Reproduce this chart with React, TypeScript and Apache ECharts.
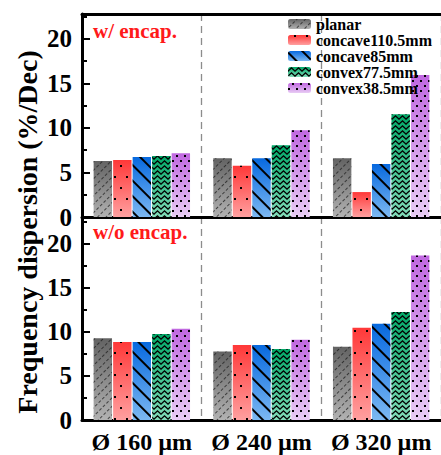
import React, { useEffect, useRef } from "react";
import * as echarts from "echarts";

const categories = ["Ø 160 µm", "Ø 240 µm", "Ø 320 µm"];
const seriesNames = ["planar", "concave110.5mm", "concave85mm", "convex77.5mm", "convex38.5mm"];

// w/ encap. (top panel)
const encapPlanar = [6.3, 6.6, 6.6];
const encapConcave110 = [6.4, 5.75, 2.8];
const encapConcave85 = [6.75, 6.6, 5.95];
const encapConvex77 = [6.85, 8.05, 11.55];
const encapConvex38 = [7.15, 9.75, 15.95];

// w/o encap. (bottom panel)
const bareplanar = [9.25, 7.75, 8.3];
const bareConcave110 = [8.85, 8.5, 10.45];
const bareConcave85 = [8.85, 8.5, 10.9];
const bareConvex77 = [9.75, 8.05, 12.25];
const bareConvex38 = [10.35, 9.1, 18.65];

const yTicks = [0, 5, 10, 15, 20];

const FONT = "'Liberation Serif', 'Times New Roman', serif";

const grad = (top: string, bottom: string) =>
  new echarts.graphic.LinearGradient(0, 0, 0, 1, [
    { offset: 0, color: top },
    { offset: 1, color: bottom },
  ]);

const styles = [
  {
    color: () => grad("#636363", "#b2b2b2"),
    decal: {
      symbol: "rect",
      color: "rgba(30,30,30,0.75)",
      dashArrayX: [3, 2],
      dashArrayY: [1, 5],
      rotation: -Math.PI / 4,
    },
  },
  {
    color: () => grad("#ff3838", "#ffa0a0"),
    decal: {
      symbol: "rect",
      color: "#000",
      dashArrayX: [
        [2, 10],
        [0, 6, 2, 4],
      ],
      dashArrayY: [2, 9],
    },
  },
  {
    color: () => grad("#0769df", "#7cb8f2"),
    decal: {
      symbol: "rect",
      color: "#000",
      dashArrayX: [1, 0],
      dashArrayY: [2, 9],
      rotation: Math.PI / 4,
    },
  },
  {
    color: () => grad("#00a867", "#82dcb9"),
    decal: {
      symbol: "path://M0,7 L5,1 L10,7 L10,10 L5,4 L0,10 Z",
      symbolKeepAspect: false,
      color: "#000",
      dashArrayX: [7, 0],
      dashArrayY: [5, 0],
    },
  },
  {
    color: () => grad("#c068e0", "#e8ccf4"),
    decal: {
      symbol: "rect",
      color: "#000",
      dashArrayX: [
        [2, 6],
        [0, 4, 2, 2],
      ],
      dashArrayY: [2, 3],
    },
  },
];

const topData = [encapPlanar, encapConcave110, encapConcave85, encapConvex77, encapConvex38];
const bottomData = [bareplanar, bareConcave110, bareConcave85, bareConvex77, bareConvex38];

export default function App() {
  const ref = useRef<HTMLDivElement>(null);
  useEffect(() => {
    if (!ref.current) return;
    const chart = echarts.init(ref.current, undefined, { renderer: "svg" });

    const makeX = (gridIndex: number, showLabel: boolean, position: string, split: boolean) => ({
      type: "category",
      gridIndex,
      data: categories,
      position,
      boundaryGap: true,
      axisLine: { show: true, onZero: false, lineStyle: { color: "#000", width: 3 } },
      axisTick: { show: false },
      axisLabel: {
        show: showLabel,
        interval: 0,
        hideOverlap: false,
        color: "#000",
        fontFamily: FONT,
        fontWeight: "bold",
        fontSize: 24,
        margin: 10,
      },
      splitLine: {
        show: split,
        interval: 0,
        lineStyle: { color: "#8c8c8c", width: 1.3, type: [7, 5] },
      },
    });

    const makeY = (gridIndex: number, max: number) => ({
      type: "value",
      gridIndex,
      min: 0,
      max,
      interval: 5,
      axisLine: { show: true, lineStyle: { color: "#000", width: 3 } },
      axisTick: { show: true, inside: true, length: 8, lineStyle: { color: "#000", width: 2 } },
      minorTick: { show: true, splitNumber: 2, length: 5, lineStyle: { color: "#000", width: 2 } },
      splitLine: { show: false },
      axisLabel: {
        showMaxLabel: false,
        color: "#000",
        fontFamily: FONT,
        fontWeight: "bold",
        fontSize: 25,
        margin: 10,
        formatter: (v: number) => (yTicks.includes(v) ? String(v) : ""),
      },
    });

    const series: any[] = [];
    [topData, bottomData].forEach((panel, p) => {
      panel.forEach((vals, i) => {
        series.push({
          type: "bar",
          name: seriesNames[i],
          xAxisIndex: p,
          yAxisIndex: p,
          data: vals,
          barWidth: 18.4,
          barGap: "6%",
          itemStyle: { color: styles[i].color(), decal: styles[i].decal },
          emphasis: { disabled: true },
        });
      });
    });

    chart.setOption({
      animation: false,
      aria: { enabled: false, decal: { show: false } },
      grid: [
        { left: 82, top: 14, width: 364, height: 203 },
        { left: 82, top: 217, width: 364, height: 203 },
      ],
      xAxis: [makeX(0, false, "bottom", true), makeX(1, true, "bottom", true), makeX(0, false, "top", false)],
      yAxis: [makeY(0, 22.8), makeY(1, 23)],
      legend: {
        orient: "vertical",
        left: 283,
        top: 11,
        itemWidth: 23,
        itemHeight: 10,
        itemGap: 0,
        data: seriesNames,
        textStyle: {
          color: "#000",
          fontFamily: FONT,
          fontWeight: "bold",
          fontSize: 16,
          lineHeight: 15,
        },
      },
      graphic: [
        {
          type: "text",
          x: 27,
          y: 232,
          rotation: Math.PI / 2,
          style: {
            text: "Frequency dispersion (%/Dec)",
            font: `bold 28px ${FONT}`,
            fill: "#000",
            textAlign: "center",
            textVerticalAlign: "middle",
          },
        },
        {
          type: "text",
          x: 93,
          y: 31,
          style: {
            text: "w/ encap.",
            font: `bold 21px ${FONT}`,
            fill: "#ff1a1a",
            textAlign: "left",
            textVerticalAlign: "middle",
          },
        },
        {
          type: "text",
          x: 93,
          y: 232,
          style: {
            text: "w/o encap.",
            font: `bold 21px ${FONT}`,
            fill: "#ff1a1a",
            textAlign: "left",
            textVerticalAlign: "middle",
          },
        },
      ],
      series,
    });
    return () => chart.dispose();
  }, []);
  return <div ref={ref} style={{ width: 441, height: 455, position: "absolute", left: 0, top: 0 }} />;
}
